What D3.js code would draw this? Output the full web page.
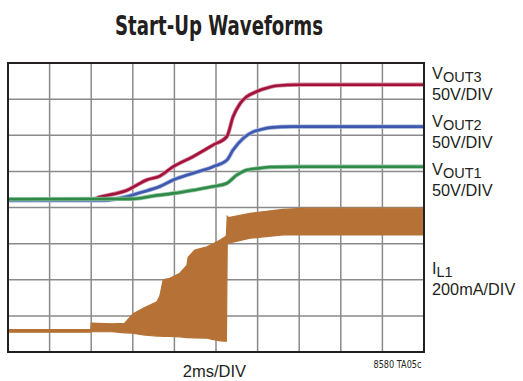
<!DOCTYPE html>
<html>
<head>
<meta charset="utf-8">
<script src="https://cdn.jsdelivr.net/npm/d3@7/dist/d3.min.js"></script>
<style>
  html, body { margin: 0; padding: 0; background: #ffffff; }
  svg { display: block; }
</style>
</head>
<body>
<script>
// ---------- DATA (time in divisions of 2ms, level in vertical divisions) ----------
const xTicks = [0,1,2,3,4,5,6,7,8,9,10];
const yTicks = [0,1,2,3,4,5,6,7,8];

const tVout3 = [0, 2.0, 2.2, 2.53, 2.85, 3.17, 3.33, 3.65, 3.97, 4.45, 4.93, 5.26, 5.41, 5.58, 5.74, 5.98, 6.2, 6.46, 7.0, 10];
const vout3  = [4.21, 4.21, 4.29, 4.37, 4.47, 4.67, 4.76, 4.87, 5.13, 5.41, 5.73, 5.96, 6.51, 6.88, 7.07, 7.21, 7.30, 7.37, 7.40, 7.40];

const tVout2 = [0, 2.3, 2.85, 3.17, 3.65, 3.97, 4.45, 4.93, 5.26, 5.41, 5.66, 5.9, 6.06, 6.3, 6.8, 10];
const vout2  = [4.20, 4.20, 4.30, 4.41, 4.58, 4.76, 4.95, 5.13, 5.31, 5.59, 5.92, 6.10, 6.15, 6.21, 6.24, 6.24];

const tVout1 = [0, 3.0, 3.49, 3.97, 4.45, 4.93, 5.26, 5.5, 5.74, 6.06, 6.3, 7.0, 10];
const vout1  = [4.23, 4.24, 4.32, 4.39, 4.48, 4.58, 4.67, 4.90, 5.04, 5.09, 5.12, 5.13, 5.13];

// inductor current: switching band (upper / lower envelope)
const tIL1     = [0, 1.99, 2.0, 2.5, 2.8, 3.0, 3.25, 3.58, 3.65, 3.73, 3.89, 4.13, 4.30, 4.33, 4.49, 4.78, 4.94, 5.02, 5.10, 5.22, 5.25, 5.27, 5.30, 5.82, 6.61, 7.2, 10];
const il1Upper = [0.62, 0.62, 0.80, 0.78, 0.79, 1.05, 1.21, 1.39, 1.55, 2.00, 2.04, 2.18, 2.40, 2.62, 2.82, 2.91, 3.00, 3.05, 3.10, 3.19, 3.22, 3.76, 3.72, 3.84, 3.95, 3.98, 3.98];
const il1Lower = [0.55, 0.55, 0.56, 0.56, 0.53, 0.52, 0.47, 0.44, 0.44, 0.43, 0.43, 0.42, 0.40, 0.40, 0.39, 0.38, 0.34, 0.33, 0.31, 0.30, 0.30, 3.00, 3.01, 3.15, 3.24, 3.24, 3.24];

const title = "Start-Up Waveforms";
const xLabel = "2ms/DIV";
const figId = "8580 TA05c";
const traceLabels = [
  { main: "V", sub: "OUT3", scale: "50V/DIV" },
  { main: "V", sub: "OUT2", scale: "50V/DIV" },
  { main: "V", sub: "OUT1", scale: "50V/DIV" },
  { main: "I", sub: "L1",   scale: "200mA/DIV" }
];

// ---------- DRAWING ----------
const W = 523, H = 381;
const plot = { left: 8, right: 424, top: 63, bottom: 352 };

const svg = d3.select("body").append("svg")
  .attr("width", W).attr("height", H)
  .attr("viewBox", `0 0 ${W} ${H}`);

svg.append("rect").attr("width", W).attr("height", H).attr("fill", "#ffffff");

const x = d3.scaleLinear().domain([0, 10]).range([plot.left, plot.right]);
const y = d3.scaleLinear().domain([0, 8]).range([plot.bottom, plot.top]);

// grid
const grid = svg.append("g");
grid.selectAll("line.v").data(xTicks.slice(1, -1)).join("line")
  .attr("x1", d => x(d)).attr("x2", d => x(d))
  .attr("y1", plot.top).attr("y2", plot.bottom)
  .attr("stroke", "#8a8a8a").attr("stroke-width", 1.5);
grid.selectAll("line.h").data(yTicks.slice(1, -1)).join("line")
  .attr("x1", plot.left).attr("x2", plot.right)
  .attr("y1", d => y(d)).attr("y2", d => y(d))
  .attr("stroke", "#8a8a8a").attr("stroke-width", 1.5);

// inductor current band
const area = d3.area()
  .x((d, i) => x(tIL1[i]))
  .y0((d, i) => y(il1Lower[i]))
  .y1((d, i) => y(il1Upper[i]))
  .curve(d3.curveLinear);
svg.append("path").datum(tIL1)
  .attr("d", area)
  .attr("fill", "#b67236")
  .attr("stroke", "#b67236").attr("stroke-width", 1.2);

// voltage traces
const line = (ts) => d3.line().x((d, i) => x(ts[i])).y(d => y(d)).curve(d3.curveMonotoneX);
const traces = [
  { t: tVout3, v: vout3, color: "#a2123b", halo: "#d58a9f" },
  { t: tVout2, v: vout2, color: "#3e58ad", halo: "#9eaedb" },
  { t: tVout1, v: vout1, color: "#2f8a48", halo: "#8fc39d" }
];
traces.forEach(tr => {
  svg.append("path").datum(tr.v).attr("d", line(tr.t))
    .attr("fill", "none").attr("stroke", tr.halo).attr("stroke-width", 4.2)
    .attr("stroke-linejoin", "round");
  svg.append("path").datum(tr.v).attr("d", line(tr.t))
    .attr("fill", "none").attr("stroke", tr.color).attr("stroke-width", 2.6)
    .attr("stroke-linejoin", "round");
});

// frame
svg.append("rect")
  .attr("x", plot.left).attr("y", plot.top)
  .attr("width", plot.right - plot.left).attr("height", plot.bottom - plot.top)
  .attr("fill", "none").attr("stroke", "#231f20").attr("stroke-width", 2);

// title
svg.append("text")
  .attr("x", 219).attr("y", 34.5)
  .attr("text-anchor", "middle")
  .attr("font-family", "'Liberation Sans Narrow', 'DejaVu Sans Condensed', 'Liberation Sans', sans-serif")
  .attr("font-weight", "bold").attr("font-size", 26.5)
  .attr("textLength", 208).attr("lengthAdjust", "spacingAndGlyphs")
  .attr("fill", "#231f20")
  .text(title);

// right-hand labels
const labelFont = "'Liberation Sans', Arial, sans-serif";
const labelY = [79, 127, 175, 273.5];
traceLabels.forEach((lb, i) => {
  const t = svg.append("text")
    .attr("x", 432).attr("y", labelY[i])
    .attr("font-family", labelFont).attr("font-size", 16.3)
    .attr("fill", "#231f20");
  t.append("tspan").text(lb.main);
  t.append("tspan").attr("font-size", 14.5).attr("dy", 3).text(lb.sub);
  svg.append("text")
    .attr("x", 432).attr("y", labelY[i] + 21)
    .attr("font-family", labelFont).attr("font-size", 16.3)
    .attr("fill", "#231f20")
    .text(lb.scale);
});

// x label
svg.append("text")
  .attr("x", 214.5).attr("y", 376.5)
  .attr("text-anchor", "middle")
  .attr("font-family", labelFont).attr("font-size", 16.5)
  .attr("fill", "#231f20")
  .text(xLabel);

// figure id
svg.append("text")
  .attr("x", 421.5).attr("y", 368)
  .attr("text-anchor", "end")
  .attr("font-family", "'Liberation Sans Narrow', 'DejaVu Sans Condensed', 'Liberation Sans', sans-serif")
  .attr("font-size", 10)
  .attr("textLength", 48).attr("lengthAdjust", "spacingAndGlyphs")
  .attr("fill", "#231f20")
  .text(figId);
</script>
</body>
</html>
